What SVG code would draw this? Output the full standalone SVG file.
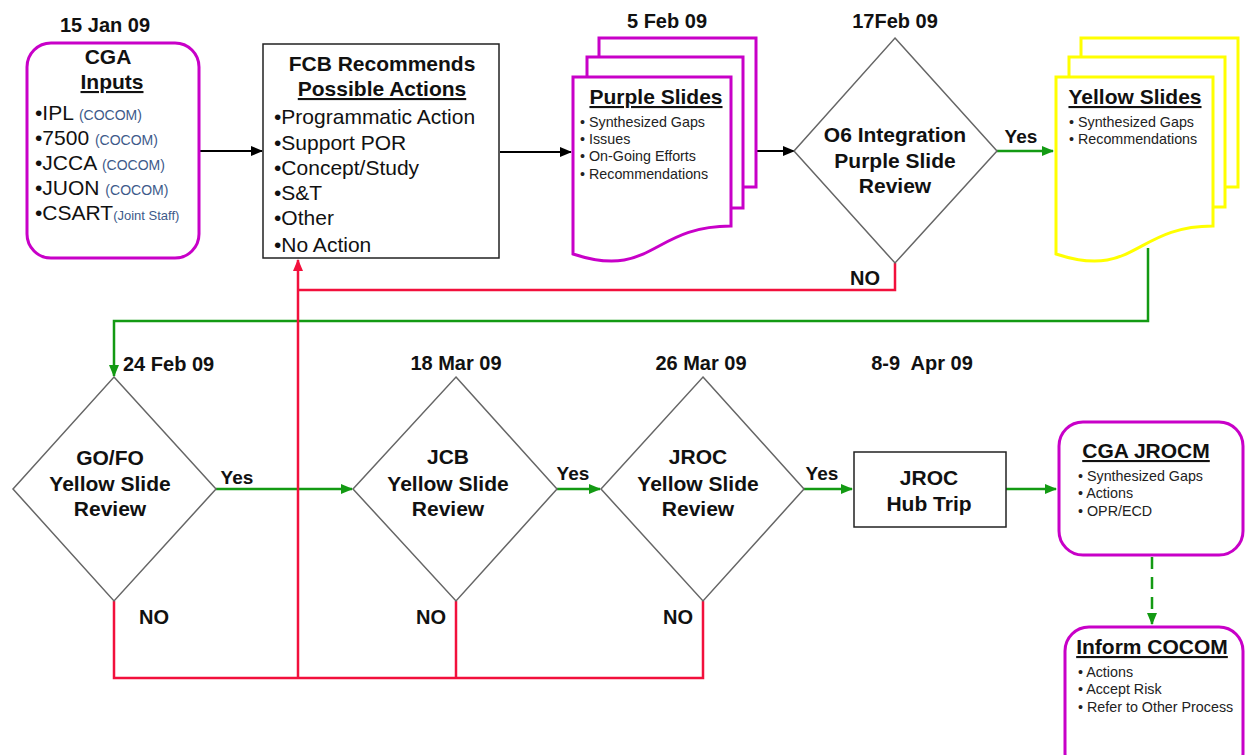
<svg xmlns="http://www.w3.org/2000/svg" width="1248" height="755" viewBox="0 0 1248 755">
<defs>
<marker id="ab" markerUnits="userSpaceOnUse" markerWidth="12" markerHeight="10" refX="11" refY="5" orient="auto"><path d="M0,0 L12,5 L0,10 Z" fill="#000"/></marker>
<marker id="ag" markerUnits="userSpaceOnUse" markerWidth="12" markerHeight="10" refX="11" refY="5" orient="auto"><path d="M0,0 L12,5 L0,10 Z" fill="#139A13"/></marker>
<marker id="ar" markerUnits="userSpaceOnUse" markerWidth="12" markerHeight="10" refX="11" refY="5" orient="auto"><path d="M0,0 L12,5 L0,10 Z" fill="#F2103C"/></marker>
</defs>
<style>
text{font-family:"Liberation Sans",Arial,sans-serif;fill:#111}
.b{font-weight:bold}
.date{font-size:20px;font-weight:bold}
.hd{font-size:21px;font-weight:bold}
.u{text-decoration:underline}
.it{font-size:21px}
.sm{font-size:14.3px;fill:#222}
.co{font-size:14px;fill:#3d5a8a}
.lbl{font-size:19px;font-weight:bold}
.purple{fill:#fff;stroke:#C800C8;stroke-width:3}
.yellow{fill:#fff;stroke:#FFFF00;stroke-width:3}
.dia{fill:#fff;stroke:#666;stroke-width:1.5}
.box{fill:#fff;stroke:#222;stroke-width:1.5}
.cb{fill:none;stroke:#000;stroke-width:2}
.cg{fill:none;stroke:#139A13;stroke-width:2.5}
.cr{fill:none;stroke:#F2103C;stroke-width:2.5}
</style>
<rect width="1248" height="755" fill="#fff"/>

<g id="connectors">
<line class="cb" x1="200" y1="151" x2="262" y2="151" marker-end="url(#ab)"/>
<line class="cb" x1="500" y1="152" x2="571" y2="152" marker-end="url(#ab)"/>
<line class="cb" x1="757" y1="151" x2="794" y2="151" marker-end="url(#ab)"/>
<line class="cg" x1="997" y1="151" x2="1053" y2="151" marker-end="url(#ag)"/>
<polyline class="cg" points="1148,248 1148,321 114,321 114,376" marker-end="url(#ag)"/>
<line class="cg" x1="216" y1="489" x2="352" y2="489" marker-end="url(#ag)"/>
<line class="cg" x1="557" y1="489" x2="600" y2="489" marker-end="url(#ag)"/>
<line class="cg" x1="804" y1="489" x2="852" y2="489" marker-end="url(#ag)"/>
<line class="cg" x1="1006" y1="489" x2="1056" y2="489" marker-end="url(#ag)"/>
<line class="cg" x1="1152" y1="557" x2="1152" y2="624" stroke-dasharray="12,8" marker-end="url(#ag)"/>
<polyline class="cr" points="895,263 895,290 298,290"/>
<polyline class="cr" points="114,601 114,678 703,678 703,601"/>
<line class="cr" x1="456" y1="601" x2="456" y2="678"/>
<line class="cr" x1="298" y1="678" x2="298" y2="260" marker-end="url(#ar)"/>
<text class="lbl" x="1021" y="143" text-anchor="middle">Yes</text>
<text class="lbl" x="865" y="285" text-anchor="middle" style="font-size:20px">NO</text>
<text class="lbl" x="237" y="484" text-anchor="middle">Yes</text>
<text class="lbl" x="573" y="480" text-anchor="middle">Yes</text>
<text class="lbl" x="822" y="480" text-anchor="middle">Yes</text>
<text class="lbl" x="154" y="624" text-anchor="middle" style="font-size:20px">NO</text>
<text class="lbl" x="431" y="624" text-anchor="middle" style="font-size:20px">NO</text>
<text class="lbl" x="678" y="624" text-anchor="middle" style="font-size:20px">NO</text>
</g>

<g id="cga-inputs">
<text class="date" x="105" y="32" text-anchor="middle">15 Jan 09</text>
<rect class="purple" x="27" y="43" width="172" height="215" rx="24"/>
<text class="hd" x="108" y="64" text-anchor="middle">CGA</text>
<text class="hd u" x="112" y="89" text-anchor="middle">Inputs</text>
<text class="it" x="35" y="120">•IPL <tspan class="co">(COCOM)</tspan></text>
<text class="it" x="35" y="145">•7500 <tspan class="co">(COCOM)</tspan></text>
<text class="it" x="35" y="170">•JCCA <tspan class="co">(COCOM)</tspan></text>
<text class="it" x="35" y="195">•JUON <tspan class="co">(COCOM)</tspan></text>
<text class="it" x="35" y="220">•CSART<tspan class="co" style="font-size:13px">(Joint Staff)</tspan></text>
</g>

<g id="fcb">
<rect class="box" x="263" y="44" width="236" height="214"/>
<text class="hd" x="382" y="71" text-anchor="middle">FCB Recommends</text>
<text class="hd u" x="382" y="96" text-anchor="middle">Possible Actions</text>
<text class="it" x="274" y="124">•Programmatic Action</text>
<text class="it" x="274" y="150">•Support POR</text>
<text class="it" x="274" y="175">•Concept/Study</text>
<text class="it" x="274" y="200">•S&amp;T</text>
<text class="it" x="274" y="225">•Other</text>
<text class="it" x="274" y="252">•No Action</text>
</g>

<g id="purple-slides">
<text class="date" x="667" y="28" text-anchor="middle">5 Feb 09</text>
<rect class="purple" x="599" y="38" width="157" height="149"/>
<rect class="purple" x="587" y="57" width="156" height="151"/>
<path class="purple" d="M573,77 H731 V226 C652,226 652,280 573,254 Z"/>
<text class="hd u" x="656" y="104" text-anchor="middle">Purple Slides</text>
<text class="sm" x="580" y="127">• Synthesized Gaps</text>
<text class="sm" x="580" y="144">• Issues</text>
<text class="sm" x="580" y="161">• On-Going Efforts</text>
<text class="sm" x="580" y="179">• Recommendations</text>
</g>

<g id="o6-review">
<text class="date" x="895" y="28" text-anchor="middle">17Feb 09</text>
<polygon class="dia" points="895,38 997,151 895,263 794,151"/>
<text class="hd" x="895" y="142" text-anchor="middle">O6 Integration</text>
<text class="hd" x="895" y="168" text-anchor="middle">Purple Slide</text>
<text class="hd" x="895" y="193" text-anchor="middle">Review</text>
</g>

<g id="yellow-slides">
<rect class="yellow" x="1081" y="38" width="157" height="149"/>
<rect class="yellow" x="1069" y="57" width="156" height="150"/>
<path class="yellow" d="M1056,77 H1213 V226 C1135,226 1135,280 1056,254 Z"/>
<text class="hd u" x="1135" y="104" text-anchor="middle">Yellow Slides</text>
<text class="sm" x="1069" y="127">• Synthesized Gaps</text>
<text class="sm" x="1069" y="144">• Recommendations</text>
</g>

<g id="gofo-review">
<text class="date" x="123" y="371">24 Feb 09</text>
<polygon class="dia" points="114,377 216,489 114,601 13,489"/>
<text class="hd" x="110" y="465" text-anchor="middle">GO/FO</text>
<text class="hd" x="110" y="491" text-anchor="middle">Yellow Slide</text>
<text class="hd" x="110" y="516" text-anchor="middle">Review</text>
</g>

<g id="jcb-review">
<text class="date" x="456" y="370" text-anchor="middle">18 Mar 09</text>
<polygon class="dia" points="456,377 557,489 456,601 353,489"/>
<text class="hd" x="448" y="464" text-anchor="middle">JCB</text>
<text class="hd" x="448" y="491" text-anchor="middle">Yellow Slide</text>
<text class="hd" x="448" y="516" text-anchor="middle">Review</text>
</g>

<g id="jroc-review">
<text class="date" x="701" y="370" text-anchor="middle">26 Mar 09</text>
<polygon class="dia" points="703,377 804,489 703,601 601,489"/>
<text class="hd" x="698" y="464" text-anchor="middle">JROC</text>
<text class="hd" x="698" y="491" text-anchor="middle">Yellow Slide</text>
<text class="hd" x="698" y="516" text-anchor="middle">Review</text>
</g>

<g id="hub-trip">
<text class="date" x="922" y="370" text-anchor="middle" xml:space="preserve">8-9  Apr 09</text>
<rect class="box" x="854" y="452" width="152" height="75"/>
<text class="hd" x="929" y="485" text-anchor="middle">JROC</text>
<text class="hd" x="929" y="511" text-anchor="middle">Hub Trip</text>
</g>

<g id="cga-jrocm">
<rect class="purple" x="1059" y="422" width="184" height="133" rx="24"/>
<text class="hd u" x="1146" y="458" text-anchor="middle">CGA JROCM</text>
<text class="sm" x="1078" y="481">• Synthesized Gaps</text>
<text class="sm" x="1078" y="498">• Actions</text>
<text class="sm" x="1078" y="516">• OPR/ECD</text>
</g>

<g id="inform-cocom">
<rect class="purple" x="1065" y="627" width="178" height="150" rx="24"/>
<text class="hd u" x="1152" y="654" text-anchor="middle">Inform COCOM</text>
<text class="sm" x="1078" y="677">• Actions</text>
<text class="sm" x="1078" y="694">• Accept Risk</text>
<text class="sm" x="1078" y="712">• Refer to Other Process</text>
</g>
</svg>
